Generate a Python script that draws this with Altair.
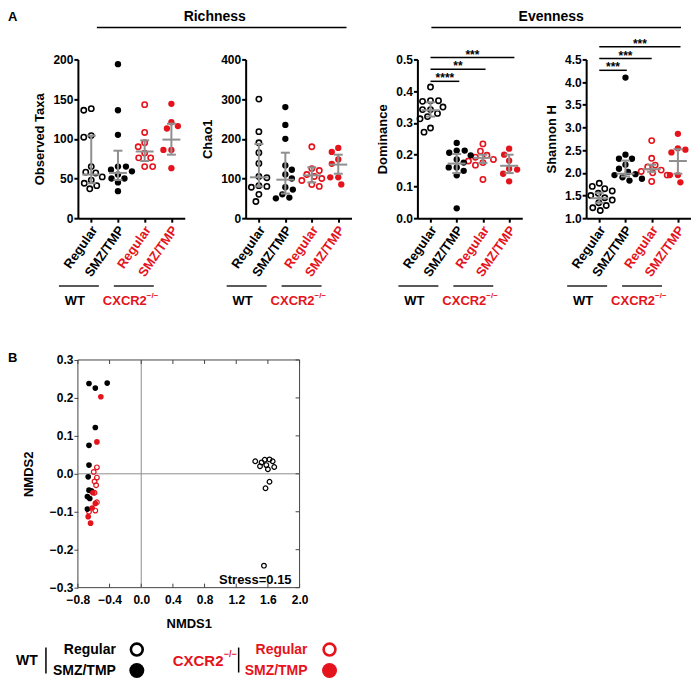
import altair as alt
import pandas as pd

RED = "#e5131b"
GRAY = "#8f8f8f"
FONT = "Liberation Sans"

GENO = ["WT", "WT", "CXCR2", "CXCR2"]
DIET = ["Regular", "SMZ/TMP", "Regular", "SMZ/TMP"]

# ---- Observed taxa ----
obs_wt_reg = [138, 136, 104, 102, 65, 58, 57, 52, 48, 44, 41, 37]
obs_wt_smz = [194, 136, 105, 65, 65, 61, 59, 55, 50, 50, 45, 34]
obs_cx_reg = [143, 108, 95, 90, 82, 76, 76, 65, 65]
obs_cx_smz = [144, 121, 116, 113, 86, 86, 63]
obs_mid = [55, 57, 84, 99]
obs_lo = [44, 48, 72, 80]
obs_hi = [104, 85, 98, 119]

# ---- Chao1 ----
chao_wt_reg = [300, 218, 190, 165, 138, 105, 102, 82, 80, 78, 60, 42]
chao_wt_smz = [280, 235, 200, 133, 122, 110, 100, 78, 72, 60, 52, 50]
chao_cx_reg = [180, 125, 120, 110, 105, 100, 95, 85, 80]
chao_cx_smz = [177, 167, 148, 137, 103, 103, 85]
chao_mid = [103, 97, 108, 135]
chao_lo = [80, 62, 90, 112]
chao_hi = [187, 165, 128, 160]

# ---- Dominance ----
dom_wt_reg = [0.413, 0.370, 0.370, 0.368, 0.350, 0.342, 0.342, 0.330, 0.320, 0.313, 0.284, 0.271]
dom_wt_smz = [0.237, 0.213, 0.213, 0.206, 0.198, 0.185, 0.175, 0.160, 0.160, 0.149, 0.135, 0.031]
dom_cx_reg = [0.234, 0.211, 0.198, 0.192, 0.185, 0.180, 0.175, 0.167, 0.122]
dom_cx_smz = [0.219, 0.200, 0.181, 0.156, 0.153, 0.140, 0.116]
dom_mid = [0.340, 0.172, 0.190, 0.165]
dom_lo = [0.320, 0.142, 0.174, 0.142]
dom_hi = [0.365, 0.202, 0.200, 0.200]
dom_sig_text = ["****", "**", "***"]
dom_sig_end = [1.1, 2.1, 3.2]
dom_sig_y = [0.431, 0.469, 0.506]

# ---- Shannon H ----
sh_wt_reg = [1.77, 1.70, 1.65, 1.60, 1.55, 1.50, 1.45, 1.40, 1.34, 1.28, 1.23, 1.17]
sh_wt_smz = [4.10, 2.40, 2.31, 2.31, 2.18, 2.09, 2.02, 1.97, 1.95, 1.90, 1.87, 1.83]
sh_cx_reg = [2.71, 2.32, 2.17, 2.13, 2.06, 2.03, 2.00, 1.95, 1.81]
sh_cx_smz = [2.86, 2.54, 2.51, 2.45, 1.95, 1.95, 1.79]
sh_mid = [1.44, 1.98, 2.08, 2.26]
sh_lo = [1.34, 1.92, 2.02, 1.98]
sh_hi = [1.56, 2.27, 2.18, 2.52]
sh_sig_text = ["***", "***", "***"]
sh_sig_end = [1.05, 2.0, 3.1]
sh_sig_y = [4.26, 4.52, 4.78]

# ---- NMDS ----
nm_wt_reg_x = [1.44, 1.52, 1.56, 1.62, 1.50, 1.58, 1.66, 1.68, 1.60, 1.62, 1.57, 1.55]
nm_wt_reg_y = [0.033, 0.030, 0.037, 0.038, 0.020, 0.023, 0.033, 0.018, 0.012, -0.021, -0.038, -0.242]
nm_wt_smz_x = [-0.66, -0.58, -0.43, -0.58, -0.66, -0.66, -0.67, -0.66, -0.63, -0.68, -0.65, -0.68]
nm_wt_smz_y = [0.238, 0.226, 0.239, 0.122, 0.075, 0.023, -0.008, -0.043, -0.045, -0.060, -0.065, -0.093]
nm_cx_reg_x = [-0.56, -0.56, -0.59, -0.57, -0.59, -0.56, -0.58, -0.66, -0.60]
nm_cx_reg_y = [0.017, -0.010, -0.020, -0.030, -0.050, -0.075, -0.097, -0.100, 0.005]
nm_cx_smz_x = [-0.51, -0.56, -0.58, -0.67, -0.64, -0.61, -0.62]
nm_cx_smz_y = [0.203, 0.084, -0.078, -0.113, -0.130, -0.050, -0.090]
nm_xticks = [-0.8, -0.4, 0.0, 0.4, 0.8, 1.2, 1.6, 2.0]
nm_yticks = [-0.3, -0.2, -0.1, 0.0, 0.1, 0.2, 0.3]

H = 159
CSCALE = alt.Scale(domain=["WT", "CXCR2"], range=["black", RED])
ONE = pd.DataFrame({"a": [0]})


def swarm(vals, ppu, d=7.6):
    placed = []
    offs = [0.0] * len(vals)
    for n, i in enumerate(sorted(range(len(vals)), key=lambda k: -vals[k])):
        yp = vals[i] * ppu
        k = 0
        chosen = None
        while chosen is None:
            if k == 0:
                cands = [0.0]
            else:
                cands = [-0.5 * k, 0.5 * k] if n % 2 else [0.5 * k, -0.5 * k]
            for c in cands:
                if all((c - px) ** 2 + (yp - py) ** 2 >= d * d for px, py in placed):
                    chosen = c
                    break
            k += 1
        placed.append((chosen, yp))
        offs[i] = chosen
    return offs


def txt(text, x, y, size=13, color="black", align="center", baseline="middle"):
    return alt.Chart(ONE).mark_text(text=text, font=FONT, fontWeight="bold", fontSize=size,
                                     color=color, align=align, baseline=baseline).encode(
        x=alt.value(x), y=alt.value(y))


def hline(x0, x1, y, color="#222222", w=1.5, op=1.0):
    return alt.Chart(ONE).mark_rule(color=color, strokeWidth=w, opacity=op).encode(
        x=alt.value(x0), x2=alt.value(x1), y=alt.value(y))


def vline(x, y0, y1, color="#222222", w=1.5):
    return alt.Chart(ONE).mark_rule(color=color, strokeWidth=w).encode(
        x=alt.value(x), y=alt.value(y0), y2=alt.value(y1))


def panel(W, ytitle, series, mids, los, his, dom, ticks, fmt, sig=None, extra=()):
    step = W / 4
    ppu = H / (dom[1] - dom[0])
    rows = []
    for gi, vals in enumerate(series):
        offs = swarm(vals, ppu)
        for v, o in zip(vals, offs):
            rows.append({"gx": gi + o / step, "val": v, "geno": GENO[gi], "diet": DIET[gi]})
    pts = pd.DataFrame(rows)
    err = pd.DataFrame({"gi": [0, 1, 2, 3], "mid": mids, "lo": los, "hi": his})
    err["m0"] = err.gi - 9 / step
    err["m1"] = err.gi + 9 / step
    err["c0"] = err.gi - 4.5 / step
    err["c1"] = err.gi + 4.5 / step

    xs = alt.Scale(domain=[-0.5, 3.5], nice=False, zero=False)
    ys = alt.Scale(domain=dom, nice=False, zero=False)
    xax = alt.Axis(values=[0, 1, 2, 3], tickCount=4,
                   labelExpr="datum.value % 2 == 0 ? 'Regular' : 'SMZ/TMP'",
                   labelAngle=305, labelFontSize=13, labelPadding=5, labelOffset=3,
                   labelAlign="right", labelBaseline="middle", labelOverlap=False,
                   labelFlush=False,
                   labelColor={"condition": {"test": "datum.value >= 2", "value": RED}, "value": "black"},
                   title=None, grid=False, domainWidth=2, domainColor="black",
                   tickWidth=2, tickSize=4, tickColor="black")
    yax = alt.Axis(values=ticks, tickCount=len(ticks), format=fmt, title=ytitle, grid=False,
                   domainWidth=2, domainColor="black", tickWidth=2, tickSize=4, tickColor="black",
                   labelPadding=1, titlePadding=6, labelOverlap=False, labelFlush=False)
    base = alt.Chart(pts)
    col = alt.Color("geno:N", scale=CSCALE, legend=None)
    openl = base.transform_filter("datum.diet == 'Regular'").mark_point(
        shape="circle", filled=False, size=28, strokeWidth=1.6, opacity=1).encode(
        x=alt.X("gx:Q", scale=xs, axis=xax), y=alt.Y("val:Q", scale=ys, axis=yax), color=col)
    filll = base.transform_filter("datum.diet != 'Regular'").mark_circle(size=40, opacity=1).encode(
        x="gx:Q", y="val:Q", color=col)
    eb = alt.Chart(err)
    e1 = eb.mark_rule(color=GRAY, strokeWidth=2).encode(x="gi:Q", y="lo:Q", y2="hi:Q")
    e2 = eb.mark_rule(color=GRAY, strokeWidth=2).encode(x="m0:Q", x2="m1:Q", y="mid:Q")
    e3 = eb.mark_rule(color=GRAY, strokeWidth=2).encode(x="c0:Q", x2="c1:Q", y="lo:Q")
    e4 = eb.mark_rule(color=GRAY, strokeWidth=2).encode(x="c0:Q", x2="c1:Q", y="hi:Q")
    layers = [openl, filll, e1, e2, e3, e4]
    if sig is not None:
        sdf = pd.DataFrame({"t": sig[0], "x0": [0, 0, 0], "x1": sig[1], "y": sig[2]})
        sdf["xm"] = (sdf.x0 + sdf.x1) / 2
        sc = alt.Chart(sdf)
        layers.append(sc.mark_rule(color="black", strokeWidth=1.5).encode(x="x0:Q", x2="x1:Q", y="y:Q"))
        layers.append(sc.mark_text(font=FONT, fontWeight="bold", fontSize=12, baseline="alphabetic",
                                   dy=1).encode(x="xm:Q", y="y:Q", text="t:N"))
    # genotype group annotation under the axis
    layers += [
        hline(-19, 21, 227), hline(36, 76, 227),
        txt("WT", -3, 242),
        txt("CXCR2", 25, 242, color=RED, align="left"),
        txt("\u2212/\u2212", 69, 237, size=8, color=RED, align="left"),
    ]
    layers += list(extra)
    return alt.layer(*layers).properties(width=W, height=H)


p1 = panel(107, "Observed Taxa", [obs_wt_reg, obs_wt_smz, obs_cx_reg, obs_cx_smz],
           obs_mid, obs_lo, obs_hi, [0, 200], [0, 50, 100, 150, 200], "d",
           extra=[hline(0, 20, -51, w=1, op=0),  # keeps a little room above the headers
                  txt("A", -70, -42, size=13, align="left"),
                  txt("Richness", 137, -42, size=14),
                  hline(19, 269, -32, color="black", w=1.5)])
p2 = panel(106, "Chao1", [chao_wt_reg, chao_wt_smz, chao_cx_reg, chao_cx_smz],
           chao_mid, chao_lo, chao_hi, [0, 400], [0, 100, 200, 300, 400], "d")
p3 = panel(105, "Dominance", [dom_wt_reg, dom_wt_smz, dom_cx_reg, dom_cx_smz],
           dom_mid, dom_lo, dom_hi, [0, 0.5], [0, 0.1, 0.2, 0.3, 0.4, 0.5], ".1f",
           sig=(dom_sig_text, dom_sig_end, dom_sig_y),
           extra=[txt("Evenness", 134, -42, size=14),
                  hline(14, 264, -32, color="black", w=1.5)])
p4 = panel(105, "Shannon H", [sh_wt_reg, sh_wt_smz, sh_cx_reg, sh_cx_smz],
           sh_mid, sh_lo, sh_hi, [1.0, 4.5], [1.0, 1.5, 2.0, 2.5, 3.0, 3.5, 4.0, 4.5], ".1f",
           sig=(sh_sig_text, sh_sig_end, sh_sig_y))

# ---- NMDS panel ----
NW, NH = 222, 228
nrows = []
for xs_, ys_, g, dname in [(nm_wt_reg_x, nm_wt_reg_y, "WT", "Regular"),
                           (nm_wt_smz_x, nm_wt_smz_y, "WT", "SMZ/TMP"),
                           (nm_cx_reg_x, nm_cx_reg_y, "CXCR2", "Regular"),
                           (nm_cx_smz_x, nm_cx_smz_y, "CXCR2", "SMZ/TMP")]:
    for a, b in zip(xs_, ys_):
        nrows.append({"x": a, "y": b, "geno": g, "diet": dname})
ndf = pd.DataFrame(nrows)
nxs = alt.Scale(domain=[-0.8, 2.0], nice=False, zero=False)
nys = alt.Scale(domain=[-0.3, 0.3], nice=False, zero=False)
nxax = alt.Axis(values=nm_xticks, tickCount=len(nm_xticks), format=".1f", title="NMDS1",
                ticks=False, domain=False, grid=False, labelPadding=7, titlePadding=12,
                titleFontSize=13, labelOverlap=False, labelFlush=False)
nyax = alt.Axis(values=nm_yticks, tickCount=len(nm_yticks), format=".1f", title="NMDS2",
                tickSize=4, tickColor="#444444", domain=False, grid=False, labelPadding=1,
                titlePadding=14, titleFontSize=13, labelOverlap=False, labelFlush=False)
col = alt.Color("geno:N", scale=CSCALE, legend=None)
nb = alt.Chart(ndf)
frame = alt.Chart(ONE).mark_rect(fill=None, stroke="#444444", strokeWidth=1).encode(
    x=alt.value(0), x2=alt.value(NW), y=alt.value(0), y2=alt.value(NH))
zx = alt.Chart(pd.DataFrame({"z": [0.0]})).mark_rule(color=GRAY, strokeWidth=1).encode(
    x=alt.X("z:Q", scale=nxs, axis=nxax), y=alt.value(0), y2=alt.value(NH))
zy = alt.Chart(pd.DataFrame({"z": [0.0]})).mark_rule(color=GRAY, strokeWidth=1).encode(
    y=alt.Y("z:Q", scale=nys, axis=nyax), x=alt.value(0), x2=alt.value(NW))
xt = alt.Chart(pd.DataFrame({"t": nm_xticks}))
yt = alt.Chart(pd.DataFrame({"t": nm_yticks}))
tk_top = xt.mark_rule(color="#444444").encode(x="t:Q", y=alt.value(0), y2=alt.value(4))
tk_bot = xt.mark_rule(color="#444444").encode(x="t:Q", y=alt.value(NH), y2=alt.value(NH - 4))
tk_rgt = yt.mark_rule(color="#444444").encode(y="t:Q", x=alt.value(NW), x2=alt.value(NW - 4))
n_open = nb.transform_filter("datum.diet == 'Regular'").mark_point(
    shape="circle", filled=False, size=22, strokeWidth=1.2, opacity=1).encode(
    x="x:Q", y="y:Q", color=col)
n_fill = nb.transform_filter("datum.diet != 'Regular'").mark_circle(size=32, opacity=1).encode(
    x="x:Q", y="y:Q", color=col)


def lpt(x, y, color, filled):
    if filled:
        return alt.Chart(ONE).mark_circle(size=225, color=color, opacity=1).encode(
            x=alt.value(x), y=alt.value(y))
    return alt.Chart(ONE).mark_point(shape="circle", filled=False, size=140, strokeWidth=2.6,
                                     color=color, opacity=1).encode(x=alt.value(x), y=alt.value(y))


LY1, LY2 = 290, 311
legend = [
    txt("WT", -51, 301, size=14),
    vline(-32, 288, 314, color="black", w=1.5),
    txt("Regular", 38, LY1, size=14, align="right"),
    txt("SMZ/TMP", 38, LY2, size=14, align="right"),
    lpt(59, LY1, "black", False), lpt(59, LY2, "black", True),
    txt("CXCR2", 95, 301, size=15, color=RED, align="left"),
    txt("\u2212/\u2212", 146, 294, size=9, color=RED, align="left"),
    vline(161, 288, 313, color="black", w=1.5),
    txt("Regular", 230, LY1, size=14, color=RED, align="right"),
    txt("SMZ/TMP", 230, LY2, size=14, color=RED, align="right"),
    lpt(252, LY1, RED, False), lpt(252, LY2, RED, True),
]
nm = alt.layer(frame, zx, zy, tk_top, tk_bot, tk_rgt, n_open, n_fill,
               txt("Stress=0.15", 214, 220, size=13, align="right"),
               txt("B", -70, -2, size=13, align="left"),
               *legend).properties(width=NW, height=NH)

# with "flush" bounds a nested concat counts as zero-sized, so the spacing
# values below are measured from the origin of the previous group
rich = alt.hconcat(p1, p2, spacing=61, bounds="flush")
even = alt.hconcat(p3, p4, spacing=64, bounds="flush")
top = alt.hconcat(rich, even, spacing=340, bounds="flush")
chart = alt.vconcat(top, nm, spacing=301, bounds="flush").properties(padding=0).configure_view(
    stroke=None).configure_axis(
    labelFont=FONT, titleFont=FONT, labelFontWeight="bold", titleFontWeight="bold",
    labelFontSize=12, titleFontSize=13, labelColor="black", titleColor="black",
    labelOverlap=False)

chart.save("out.html", embed_options={"renderer": "svg", "actions": False})
